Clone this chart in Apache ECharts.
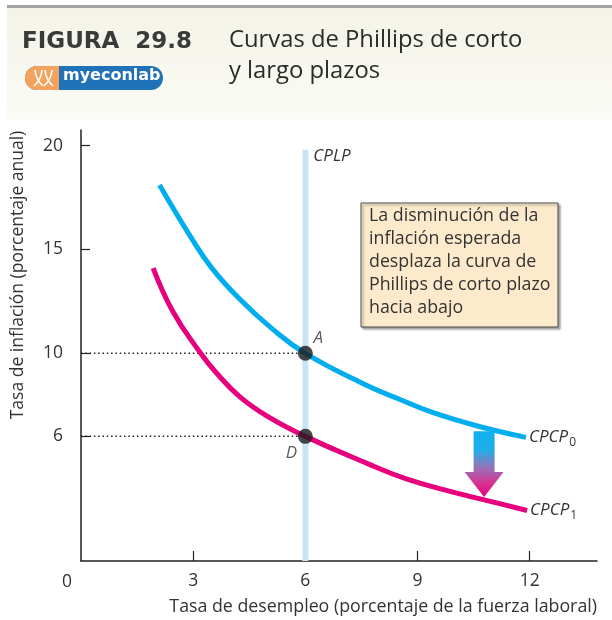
<!DOCTYPE html>
<html><head><meta charset="utf-8">
<script src="https://cdn.jsdelivr.net/npm/echarts@6/dist/echarts.min.js"></script>
<style>html,body{margin:0;padding:0;background:#fff}#c{width:612px;height:620px}</style>
</head><body><div id="c"></div>
<script>
// ---- data ----
const xTicks = [3, 6, 9, 12];
const yTicks = [6, 10, 15, 20];
const cplp = [[6, 0], [6, 19.8]];
const cpcp0 = [[2.1, 18.1], [2.9, 15.7], [3.5, 14.1], [4.25, 12.6], [5.1, 11.2], [6, 10], [7.65, 8.45], [8.5, 7.8], [9.4, 7.15], [10.6, 6.5], [11.9, 5.95]];
const cpcp1 = [[1.93, 14.1], [2.46, 12.0], [3.18, 10.05], [3.6, 9.1], [4.25, 7.9], [5.0, 6.95], [6, 6], [7.65, 4.7], [8.7, 3.95], [9.87, 3.35], [11.0, 2.85], [11.93, 2.43]];
const guide10 = [[0, 10], [6, 10]];
const guide6 = [[0, 6], [6, 6]];
const pointA = [6, 10];
const pointD = [6, 6];
const shiftArrow = [[10.78, 6.25], [10.78, 3.08]];
const boxLines = ['La disminución de la', 'inflación esperada', 'desplaza la curva de', 'Phillips de corto plazo', 'hacia abajo'];

const F = '"Open Sans", Lato, sans-serif';
const TXT = '#333333';
const CYAN = '#00aeef';
const MAG = '#e6007e';

const chart = echarts.init(document.getElementById('c'), null, {renderer: 'canvas'});

const curveStyle = {fontFamily: F, fontStyle: 'italic', fontSize: 17, color: TXT};
const subStyle = {fontFamily: F, fontSize: 12, color: TXT, padding: [10, 0, 0, 1]};

const option = {
  animation: false,
  backgroundColor: '#ffffff',
  grid: {left: 81, top: 130, width: 516, height: 431, outerBoundsMode: 'none'},
  xAxis: {
    type: 'value', min: 0, max: 13.8,
    axisLine: {lineStyle: {color: '#222', width: 1.5}},
    axisTick: {inside: true, length: 10, customValues: xTicks, lineStyle: {color: '#222', width: 1.2}},
    axisLabel: {customValues: xTicks, margin: 11, fontSize: 17.5, color: TXT, fontFamily: F},
    splitLine: {show: false}
  },
  yAxis: {
    type: 'value', min: 0, max: 20.75,
    axisLine: {lineStyle: {color: '#222', width: 1.5}},
    axisTick: {inside: true, length: 9, customValues: yTicks, lineStyle: {color: '#222', width: 1.2}},
    axisLabel: {customValues: yTicks, margin: 18, fontSize: 17.5, color: TXT, fontFamily: F},
    splitLine: {show: false}
  },
  series: [
    {type: 'line', data: cplp, symbol: 'none', z: 1, lineStyle: {color: '#c6e6f6', width: 6}},
    {type: 'line', data: guide10, symbol: 'none', z: 2, lineStyle: {color: '#222', width: 1.5, type: [1.5, 2.8]}},
    {type: 'line', data: guide6, symbol: 'none', z: 2, lineStyle: {color: '#222', width: 1.5, type: [1.5, 2.8]}},
    {type: 'line', data: cpcp0, smooth: 0.45, symbol: 'none', z: 3, lineStyle: {color: CYAN, width: 5},
      endLabel: {show: true, distance: 3, formatter: '{a|CPCP}{b|0}', rich: {a: curveStyle, b: subStyle}}},
    {type: 'line', data: cpcp1, smooth: 0.45, symbol: 'none', z: 3, lineStyle: {color: MAG, width: 5},
      endLabel: {show: true, distance: 3, formatter: '{a|CPCP}{b|1}', rich: {a: curveStyle, b: subStyle}}},
    {type: 'scatter', data: [pointA], symbolSize: 15, z: 5, itemStyle: {color: '#1a1a1a'},
      label: {show: true, formatter: 'A', position: 'inside', offset: [13, -15], fontFamily: F, fontStyle: 'italic', fontSize: 17, color: TXT}},
    {type: 'scatter', data: [pointD], symbolSize: 15, z: 5, itemStyle: {color: '#1a1a1a'},
      label: {show: true, formatter: 'D', position: 'inside', offset: [-14, 17], fontFamily: F, fontStyle: 'italic', fontSize: 17, color: TXT}}
  ]
};
chart.setOption(option);

// ---- annotations positioned through the chart's scales ----
const pTop = chart.convertToPixel({gridIndex: 0}, cplp[1]);
const a0 = chart.convertToPixel({gridIndex: 0}, shiftArrow[0]);
const a1 = chart.convertToPixel({gridIndex: 0}, shiftArrow[1]);
const ax = a0[0], y0 = a0[1], yt = a1[1];
const sw = 10.5, hw = 19.5, hl = 25;

const boxText = boxLines.map((s, i) => ({
  type: 'text', left: 369, top: 207 + i * 23,
  style: {text: s, font: '17.8px ' + F, fill: TXT}
}));

const graphics = [
  // header band
  {type: 'rect', shape: {x: 7, y: 8, width: 605, height: 112}, silent: true,
    style: {fill: new echarts.graphic.LinearGradient(0, 0, 0, 1, [{offset: 0, color: '#f4f3e7'}, {offset: 1, color: '#fbfbf7'}])}},
  {type: 'rect', shape: {x: 7, y: 5, width: 605, height: 3}, style: {fill: '#a3a3a3'}},
  {type: 'text', left: 22, top: 31, style: {text: 'FIGURA  29.8', font: 'bold 23px "DejaVu Sans", sans-serif', fill: '#3a3a3a'}},
  {type: 'text', left: 229, top: 28, style: {text: 'Curvas de Phillips de corto', font: '23.8px ' + F, fill: '#2b2b2b'}},
  {type: 'text', left: 229, top: 59, style: {text: 'y largo plazos', font: '23.8px ' + F, fill: '#2b2b2b'}},
  // logo
  {type: 'rect', shape: {x: 25, y: 66, width: 138, height: 24, r: 12}, style: {fill: '#1f72b8'}},
  {type: 'rect', shape: {x: 25, y: 66, width: 34, height: 24, r: [12, 0, 0, 12]}, style: {fill: '#f4a35e'}},
  {type: 'bezierCurve', shape: {x1: 35, y1: 70, x2: 43, y2: 86, cpx1: 36, cpy1: 80}, style: {stroke: '#fff', lineWidth: 1.6, fill: null}},
  {type: 'bezierCurve', shape: {x1: 42, y1: 70, x2: 34, y2: 86, cpx1: 41, cpy1: 80}, style: {stroke: '#fff', lineWidth: 1.6, fill: null}},
  {type: 'bezierCurve', shape: {x1: 45, y1: 70, x2: 53, y2: 86, cpx1: 46, cpy1: 80}, style: {stroke: '#fff', lineWidth: 1.6, fill: null}},
  {type: 'bezierCurve', shape: {x1: 52, y1: 70, x2: 44, y2: 86, cpx1: 51, cpy1: 80}, style: {stroke: '#fff', lineWidth: 1.6, fill: null}},
  {type: 'text', left: 63, top: 68, style: {text: 'myeconlab', font: 'bold 16px "DejaVu Sans", sans-serif', fill: '#ffffff'}},
  // axis names & origin
  {type: 'text', x: 18, y: 275, rotation: Math.PI / 2,
    style: {text: 'Tasa de inflación (porcentaje anual)', font: '17.5px ' + F, fill: TXT, align: 'center', verticalAlign: 'middle'}},
  {type: 'text', x: 597, y: 607, style: {text: 'Tasa de desempleo (porcentaje de la fuerza laboral)', font: '17.8px ' + F, fill: TXT, align: 'right', verticalAlign: 'middle'}},
  {type: 'text', x: 67, y: 582, style: {text: '0', font: '17.5px ' + F, fill: TXT, align: 'center', verticalAlign: 'middle'}},
  // CPLP label
  {type: 'text', x: pTop[0] + 8, y: pTop[1] + 6, style: {text: 'CPLP', font: 'italic 17px ' + F, fill: TXT, verticalAlign: 'middle'}},
  // annotation box
  {type: 'rect', shape: {x: 361, y: 203, width: 197, height: 124},
    style: {fill: '#fdeacc', stroke: '#4a4a4a', lineWidth: 1, shadowColor: 'rgba(0,0,0,0.35)', shadowOffsetX: 2, shadowOffsetY: 2, shadowBlur: 2}},
  ...boxText,
  // shift arrow
  {type: 'polygon', z: 10,
    shape: {points: [[ax - sw, y0], [ax + sw, y0], [ax + sw, yt - hl], [ax + hw, yt - hl], [ax, yt], [ax - hw, yt - hl], [ax - sw, yt - hl]]},
    style: {fill: new echarts.graphic.LinearGradient(0, 0, 0, 1, [
      {offset: 0, color: '#10b0ee'}, {offset: 0.28, color: '#20aee9'}, {offset: 0.55, color: '#9474b8'},
      {offset: 0.8, color: '#d9308f'}, {offset: 1, color: '#e6007e'}])}}
];
chart.setOption({graphic: graphics});
</script></body></html>
